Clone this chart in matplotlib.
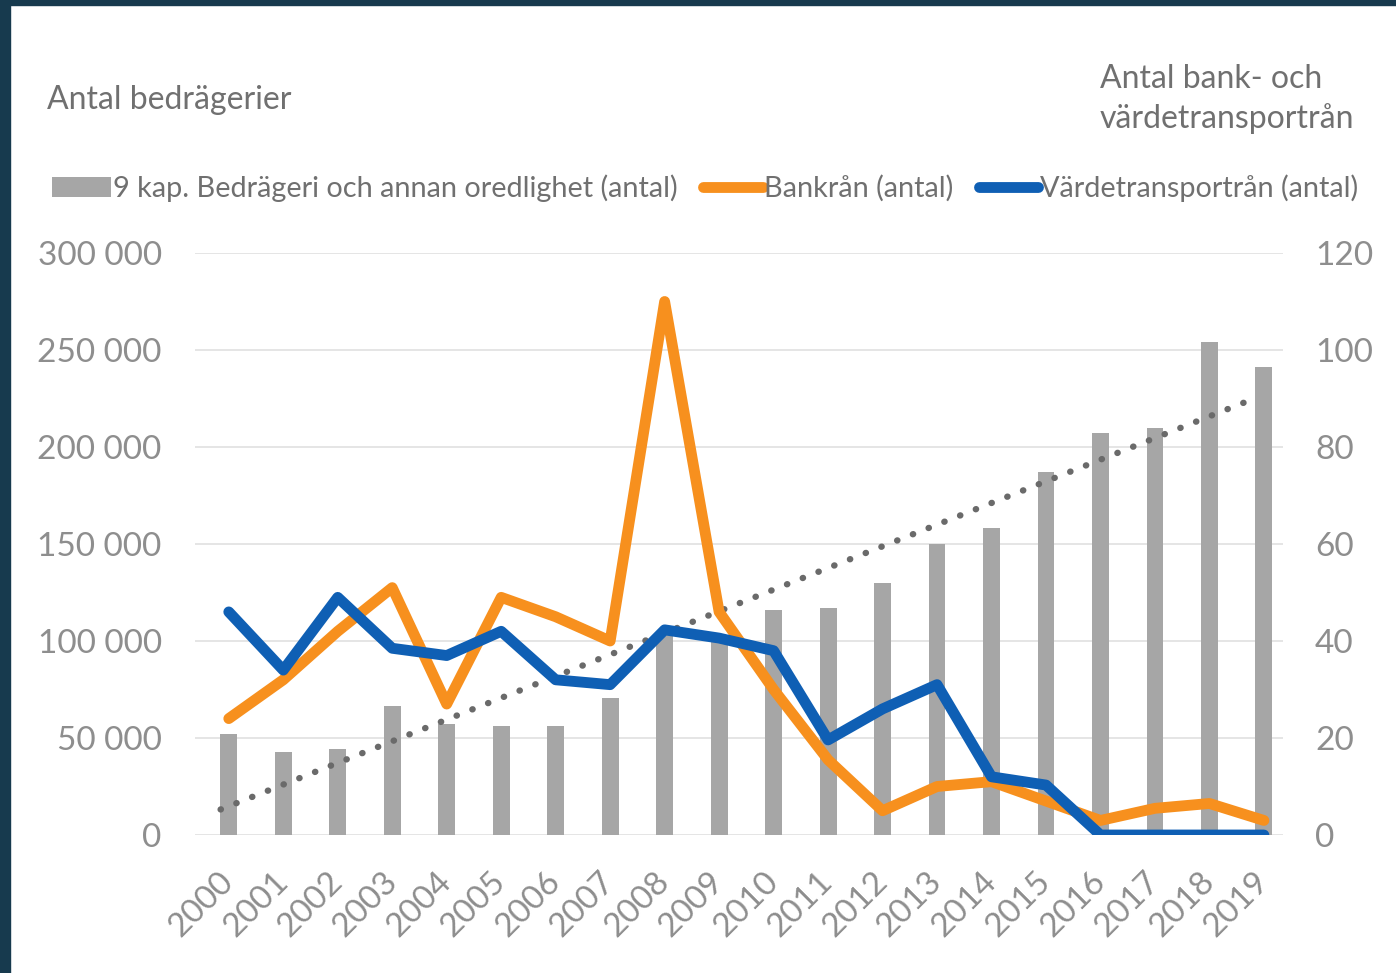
import numpy as np
import matplotlib
matplotlib.use("Agg")
import matplotlib.pyplot as plt
from matplotlib.patches import Rectangle

plt.rcParams['font.family'] = ['Lato', 'DejaVu Sans']

years = [str(y) for y in range(2000, 2020)]
# 9 kap. Bedrägeri och annan oredlighet (antal)
fraud = [52000, 43000, 44500, 66500, 57000, 56000, 56000, 70500, 103000, 99500,
         116000, 117000, 130000, 150000, 158000, 187000, 207000, 210000, 254000, 241000]
# Bankrån (antal)
bank = [24, 32, 42, 51, 27, 49, 45, 40, 110, 46,
        30, 15.5, 5, 10, 11, 7, 3, 5.5, 6.5, 3]
# Värdetransportrån (antal)
cash = [46, 34, 49, 38.5, 37, 42, 32, 31, 42.3, 40.6,
        38, 19.6, 26, 31, 12, 10.3, 0, 0, 0, 0]

GREY = '#a6a6a6'
ORANGE = '#f7901e'
BLUE = '#0f5fb4'
TXT = '#707070'
TICK = '#8e8e8e'

fig = plt.figure(figsize=(13.96, 9.73), dpi=100)
fig.patch.set_facecolor('white')
# dark frame on left and top edge of the screenshot
fig.patches.append(Rectangle((0, 0), 10 / 1396, 1, transform=fig.transFigure, color='#173a4e', zorder=10))
fig.patches.append(Rectangle((0, 1 - 5 / 973), 1, 5 / 973, transform=fig.transFigure, color='#173a4e', zorder=10))

ax = fig.add_axes([195 / 1396, 1 - 835 / 973, (1283 - 195) / 1396, (835 - 253) / 973])
ax2 = ax.twinx()

x = np.arange(len(years))
ax.bar(x, fraud, width=0.31, color=GREY, zorder=2,
       label='9 kap. Bedrägeri och annan oredlighet (antal)')

# linear trendline of the bars
k, m = np.polyfit(x, fraud, 1)
xt = np.array([x[0] - 0.15, x[-1] - 0.35])
ax.plot(xt, k * xt + m, color='#6a6a6a', lw=4.6, linestyle=(0, (0.05, 2.6)),
        dash_capstyle='round', zorder=3)

ax2.plot(x, bank, color=ORANGE, lw=7.8, solid_joinstyle='round', solid_capstyle='round',
         label='Bankrån (antal)', zorder=4)
ax2.plot(x, cash, color=BLUE, lw=7.8, solid_joinstyle='round', solid_capstyle='round',
         label='Värdetransportrån (antal)', zorder=5)

ax.set_xlim(-0.62, 19.35)
ax.set_ylim(0, 300000)
ax2.set_ylim(0, 120)
ax.set_yticks(range(0, 300001, 50000))
ax.set_yticklabels([f'{v:,}'.replace(',', ' ') for v in range(0, 300001, 50000)])
ax2.set_yticks(range(0, 121, 20))

ax.grid(axis='y', color='#e0e0e0', lw=1.2, zorder=0)
ax.set_axisbelow(True)
for a in (ax, ax2):
    for s in a.spines.values():
        s.set_visible(False)
    a.tick_params(length=0, colors=TICK, labelsize=24)
ax.tick_params(axis='y', pad=24)
ax2.tick_params(axis='y', pad=23)
ax.set_xticks(x)
ax.set_xticklabels(years, rotation=45, ha='right', va='center', rotation_mode='anchor')
ax.tick_params(axis='x', pad=30, labelsize=24)

# put the lines above the bars
ax.set_zorder(1)
ax2.set_zorder(2)
ax2.patch.set_visible(False)

fig.text(47 / 1396, 1 - 100 / 973, 'Antal bedrägerier', fontsize=23, color=TXT, va='center', ha='left')
fig.text(1100 / 1396, 1 - 99 / 973, 'Antal bank- och\nvärdetransportrån', fontsize=23,
         color=TXT, va='center', ha='left', linespacing=1.4)

h1, l1 = ax.get_legend_handles_labels()
h2, l2 = ax2.get_legend_handles_labels()
fig.legend(h1 + h2, l1 + l2, loc='center left', bbox_to_anchor=(52 / 1396, 1 - 188 / 973),
           ncol=3, frameon=False, fontsize=20.8, labelcolor=TXT, handlelength=2.05,
           handletextpad=0.05, columnspacing=0.9, borderaxespad=0, borderpad=0)

fig.savefig('out.png', dpi=100, facecolor='white')
